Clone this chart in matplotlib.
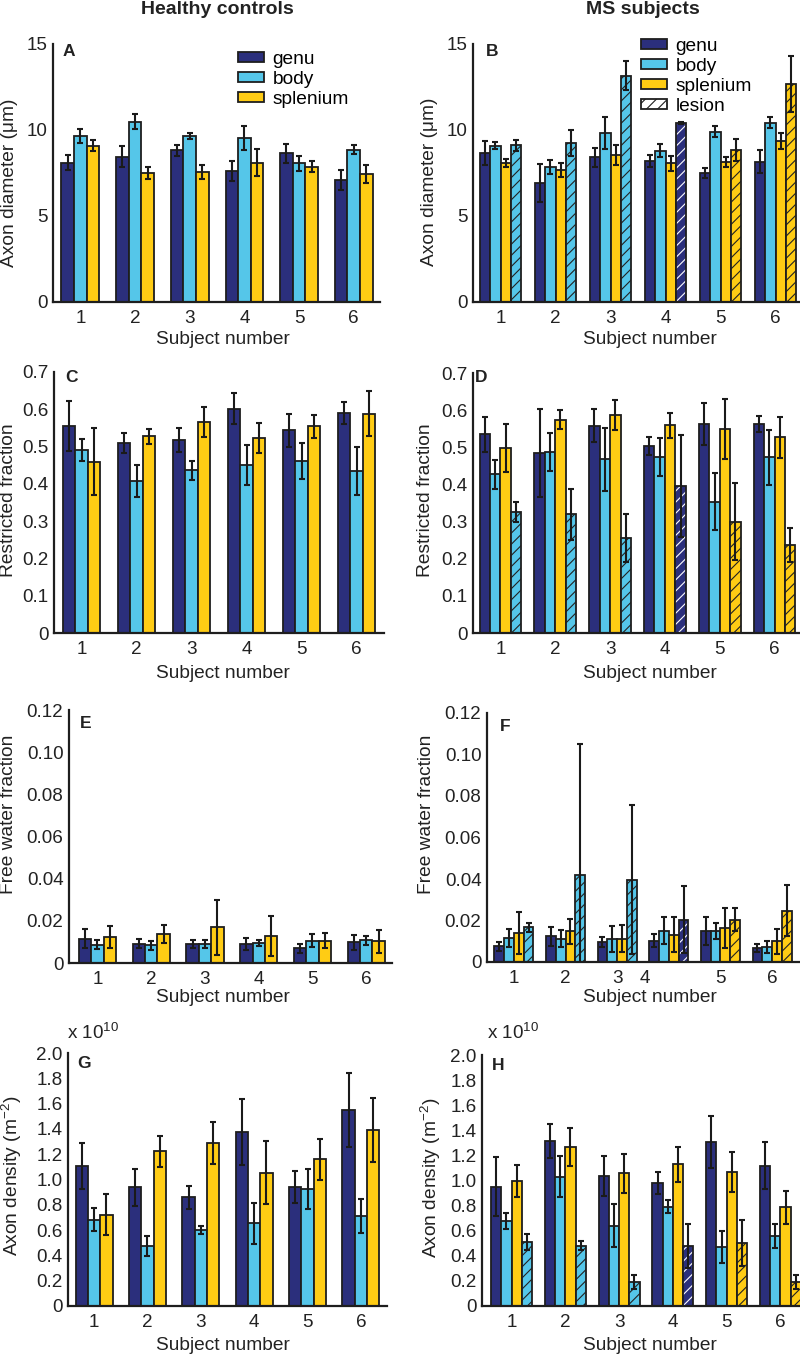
import matplotlib
matplotlib.use("Agg")
import matplotlib.pyplot as plt
import numpy as np
from matplotlib.patches import Patch

plt.rcParams['font.family'] = ['Liberation Sans', 'DejaVu Sans']
plt.rcParams['mathtext.fontset'] = 'custom'
plt.rcParams['mathtext.rm'] = 'Liberation Sans'
plt.rcParams['mathtext.default'] = 'regular'
plt.rcParams['hatch.linewidth'] = 0.8

# ---------------- data ----------------
subjects = [1, 2, 3, 4, 5, 6]
regions = ['genu', 'body', 'splenium']
lesion_region = ['body', 'body', 'body', 'genu', 'splenium', 'splenium']

# A: healthy axon diameter (um)
A_genu = [8.10, 8.45, 8.82, 7.61, 8.66, 7.09]
A_genu_err = [0.45, 0.60, 0.32, 0.60, 0.55, 0.60]
A_body = [9.65, 10.49, 9.65, 9.53, 8.06, 8.85]
A_body_err = [0.42, 0.45, 0.20, 0.70, 0.45, 0.25]
A_spl = [9.09, 7.50, 7.55, 8.10, 7.86, 7.44]
A_spl_err = [0.33, 0.34, 0.42, 0.80, 0.33, 0.50]

# B: MS axon diameter (um)
B_genu = [8.68, 6.93, 8.41, 8.21, 7.51, 8.16]
B_genu_err = [0.70, 1.09, 0.55, 0.36, 0.28, 0.66]
B_body = [9.09, 7.86, 9.84, 8.80, 9.90, 10.43]
B_body_err = [0.20, 0.40, 0.92, 0.39, 0.33, 0.34]
B_spl = [8.06, 7.67, 8.54, 8.06, 8.12, 9.36]
B_spl_err = [0.23, 0.40, 0.56, 0.43, 0.29, 0.46]
B_les = [9.11, 9.22, 13.15, 10.39, 8.83, 12.68]
B_les_err = [0.33, 0.76, 0.84, 0.05, 0.66, 1.63]

# C: healthy restricted fraction
C_genu = [0.554, 0.510, 0.517, 0.602, 0.544, 0.590]
C_genu_err = [0.067, 0.027, 0.032, 0.041, 0.044, 0.030]
C_body = [0.490, 0.408, 0.436, 0.450, 0.461, 0.434]
C_body_err = [0.030, 0.043, 0.025, 0.053, 0.048, 0.065]
C_spl = [0.459, 0.528, 0.566, 0.524, 0.554, 0.588]
C_spl_err = [0.090, 0.020, 0.039, 0.040, 0.031, 0.060]

# D: MS restricted fraction
D_genu = [0.535, 0.484, 0.558, 0.504, 0.563, 0.562]
D_genu_err = [0.047, 0.119, 0.045, 0.024, 0.057, 0.022]
D_body = [0.428, 0.487, 0.468, 0.473, 0.354, 0.473]
D_body_err = [0.039, 0.052, 0.085, 0.051, 0.077, 0.074]
D_spl = [0.498, 0.574, 0.586, 0.559, 0.549, 0.527]
D_spl_err = [0.064, 0.026, 0.040, 0.033, 0.081, 0.055]
D_les = [0.327, 0.320, 0.256, 0.396, 0.300, 0.237]
D_les_err = [0.027, 0.069, 0.064, 0.137, 0.103, 0.047]

# E: healthy free water fraction
E_genu = [0.0115, 0.0092, 0.0090, 0.0090, 0.0069, 0.0099]
E_genu_err = [0.0044, 0.0020, 0.0021, 0.0030, 0.0021, 0.0036]
E_body = [0.0087, 0.0084, 0.0090, 0.0095, 0.0106, 0.0107]
E_body_err = [0.0022, 0.0020, 0.0021, 0.0016, 0.0030, 0.0021]
E_spl = [0.0123, 0.0139, 0.0169, 0.0130, 0.0106, 0.0103]
E_spl_err = [0.0054, 0.0042, 0.0130, 0.0095, 0.0034, 0.0055]

# F: MS free water fraction
F_genu = [0.0076, 0.0124, 0.0095, 0.0103, 0.0151, 0.0067]
F_genu_err = [0.0021, 0.0045, 0.0025, 0.0030, 0.0067, 0.0021]
F_body = [0.0116, 0.0112, 0.0111, 0.0151, 0.0151, 0.0072]
F_body_err = [0.0044, 0.0040, 0.0063, 0.0066, 0.0038, 0.0030]
F_spl = [0.0140, 0.0148, 0.0112, 0.0132, 0.0164, 0.0100]
F_spl_err = [0.0103, 0.0061, 0.0065, 0.0084, 0.0097, 0.0060]
F_les = [0.0167, 0.0421, 0.0397, 0.0204, 0.0204, 0.0247]
F_les_err = [0.0022, 0.0631, 0.0360, 0.0163, 0.0056, 0.0123]
F_tick_pos = [1, 2, 3, 3.53, 5, 6]

# G: healthy axon density (x 1e10 m^-2)
G_genu = [1.103, 0.939, 0.860, 1.372, 0.939, 1.546]
G_genu_err = [0.182, 0.145, 0.092, 0.261, 0.125, 0.292]
G_body = [0.681, 0.478, 0.602, 0.654, 0.926, 0.712]
G_body_err = [0.090, 0.079, 0.034, 0.161, 0.158, 0.132]
G_spl = [0.720, 1.222, 1.288, 1.055, 1.161, 1.388]
G_spl_err = [0.162, 0.124, 0.165, 0.248, 0.161, 0.253]

# H: MS axon density (x 1e10 m^-2)
H_genu = [0.951, 1.315, 1.036, 0.977, 1.307, 1.118]
H_genu_err = [0.234, 0.137, 0.162, 0.088, 0.206, 0.186]
H_body = [0.677, 1.031, 0.640, 0.791, 0.473, 0.558]
H_body_err = [0.061, 0.162, 0.173, 0.053, 0.127, 0.093]
H_spl = [0.996, 1.270, 1.057, 1.129, 1.068, 0.786]
H_spl_err = [0.124, 0.151, 0.154, 0.137, 0.156, 0.133]
H_les = [0.513, 0.481, 0.194, 0.478, 0.499, 0.194]
H_les_err = [0.064, 0.037, 0.056, 0.173, 0.183, 0.056]

yt_diam = [0, 5, 10, 15]
yt_diam_lbl = ['0', '5', '10', '15']
yt_rf = [0, 0.1, 0.2, 0.3, 0.4, 0.5, 0.6, 0.7]
yt_rf_lbl = ['0', '0.1', '0.2', '0.3', '0.4', '0.5', '0.6', '0.7']
yt_fw = [0, 0.02, 0.04, 0.06, 0.08, 0.10, 0.12]
yt_fw_lbl = ['0', '0.02', '0.04', '0.06', '0.08', '0.10', '0.12']
yt_ad = [0, 0.2, 0.4, 0.6, 0.8, 1.0, 1.2, 1.4, 1.6, 1.8, 2.0]
yt_ad_lbl = ['0', '0.2', '0.4', '0.6', '0.8', '1.0', '1.2', '1.4', '1.6', '1.8', '2.0']

# ---------------- style ----------------
COL = {'genu': '#2B2F7C', 'body': '#55C6E9', 'splenium': '#FFCC14'}
EDGE = '#1E1E1E'
TXT = '#222222'
W, H = 800, 1356
FS_TICK = 13.6
FS_LAB = 13.8

fig = plt.figure(figsize=(W / 100, H / 100), dpi=100)


def add_ax(left, right, top, bottom):
    return fig.add_axes([left / W, 1 - bottom / H, (right - left) / W, (bottom - top) / H])


def style(ax, xlim, ylim, yt, ytl, xt=None):
    ax.set_xlim(*xlim)
    ax.set_ylim(*ylim)
    for s in ['top', 'right']:
        ax.spines[s].set_visible(False)
    for s in ['left', 'bottom']:
        ax.spines[s].set_linewidth(1.6)
        ax.spines[s].set_color(EDGE)
    ax.set_yticks(yt)
    ax.set_yticklabels(ytl)
    ax.set_xticks(subjects if xt is None else xt)
    ax.set_xticklabels([str(s) for s in subjects])
    ax.tick_params(length=0, labelsize=FS_TICK, colors=TXT)
    ax.tick_params(axis='y', pad=4)
    ax.tick_params(axis='x', pad=6)


def draw_bars(ax, series, errs, lesion=None, lesion_err=None):
    n = len(series) + (1 if lesion is not None else 0)
    bw = 0.23 if n == 3 else 0.19
    x = np.array(subjects, dtype=float)
    offs = (np.arange(n) - (n - 1) / 2) * bw
    for i, (vals, er, reg) in enumerate(zip(series, errs, regions)):
        ax.bar(x + offs[i], vals, bw, color=COL[reg], edgecolor=EDGE, linewidth=1.3, zorder=2)
        ax.errorbar(x + offs[i], vals, yerr=er, fmt='none', ecolor='#1a1a1a',
                    elinewidth=1.5, capsize=2.5, capthick=1.5, zorder=3)
    if lesion is not None:
        xl = x + offs[-1]
        for j in range(len(subjects)):
            reg = lesion_region[j]
            hc = 'white' if reg == 'genu' else '#222222'
            ax.bar(xl[j], lesion[j], bw, color=COL[reg], edgecolor=hc, linewidth=0,
                   hatch='///', zorder=2)
            ax.bar(xl[j], lesion[j], bw, fill=False, edgecolor=EDGE, linewidth=1.3, zorder=2.5)
        ax.errorbar(xl, lesion, yerr=lesion_err, fmt='none', ecolor='#1a1a1a',
                    elinewidth=1.5, capsize=2.5, capthick=1.5, zorder=3)


def ftext(x, y, s, **kw):
    fig.text(x / W, 1 - y / H, s, **kw)


# Row 1
axA = add_ax(53, 380, 44, 302)
draw_bars(axA, [A_genu, A_body, A_spl], [A_genu_err, A_body_err, A_spl_err])
style(axA, (0.5, 6.48), (0, 15), yt_diam, yt_diam_lbl)
axB = add_ax(473, 803, 44, 302)
draw_bars(axB, [B_genu, B_body, B_spl], [B_genu_err, B_body_err, B_spl_err], B_les, B_les_err)
style(axB, (0.5, 6.5), (0, 15), yt_diam, yt_diam_lbl)

# Row 2
axC = add_ax(54, 384, 372, 633)
draw_bars(axC, [C_genu, C_body, C_spl], [C_genu_err, C_body_err, C_spl_err])
style(axC, (0.5, 6.5), (0, 0.7), yt_rf, yt_rf_lbl)
axD = add_ax(473, 802, 373, 633)
draw_bars(axD, [D_genu, D_body, D_spl], [D_genu_err, D_body_err, D_spl_err], D_les, D_les_err)
style(axD, (0.5, 6.5), (0, 0.7), yt_rf, yt_rf_lbl)

# Row 3
axE = add_ax(69, 392, 710, 963)
draw_bars(axE, [E_genu, E_body, E_spl], [E_genu_err, E_body_err, E_spl_err])
style(axE, (0.47, 6.48), (0, 0.12), yt_fw, yt_fw_lbl)
axF = add_ax(487, 799, 713, 962)
draw_bars(axF, [F_genu, F_body, F_spl], [F_genu_err, F_body_err, F_spl_err], F_les, F_les_err)
style(axF, (0.48, 6.52), (0, 0.12), yt_fw, yt_fw_lbl, xt=F_tick_pos)

# Row 4
axG = add_ax(68, 387, 1053, 1306)
draw_bars(axG, [G_genu, G_body, G_spl], [G_genu_err, G_body_err, G_spl_err])
style(axG, (0.51, 6.49), (0, 2.0), yt_ad, yt_ad_lbl)
axH = add_ax(482, 810, 1055, 1306)
draw_bars(axH, [H_genu, H_body, H_spl], [H_genu_err, H_body_err, H_spl_err], H_les, H_les_err)
style(axH, (0.45, 6.55), (0, 2.0), yt_ad, yt_ad_lbl)

# titles
ftext(217, 9, 'Healthy controls', ha='center', va='center', fontsize=14, fontweight='bold', color=TXT)
ftext(643, 9, 'MS subjects', ha='center', va='center', fontsize=14, fontweight='bold', color=TXT)

# panel letters
for (x, y, s) in [(63, 51, 'A'), (486, 52, 'B'), (65, 377, 'C'), (475, 378, 'D'),
                  (80, 723, 'E'), (500, 726, 'F'), (77, 1064, 'G'), (492, 1066, 'H')]:
    ftext(x, y, s, ha='left', va='center', fontsize=12.5, fontweight='bold', color=TXT)

# y labels
for (x, y, s) in [(10, 183, 'Axon diameter (μm)'), (429, 182, 'Axon diameter (μm)'),
                  (9, 500, 'Restricted fraction'), (426, 500, 'Restricted fraction'),
                  (9, 814, 'Free water fraction'), (427, 814, 'Free water fraction'),
                  (12, 1176, r'Axon density (m$^{-2}$)'), (431, 1178, r'Axon density (m$^{-2}$)')]:
    ftext(x, y, s, ha='center', va='center', rotation=90, fontsize=FS_LAB, color=TXT)

# x labels
for (x, y) in [(223, 340), (650, 340), (223, 673), (650, 673), (223, 997), (650, 997),
               (223, 1345), (650, 1345)]:
    ftext(x, y, 'Subject number', ha='center', va='center', fontsize=FS_LAB, color=TXT)

# offset text
ftext(67, 1033, r'x 10$^{10}$', ha='left', va='center', fontsize=FS_TICK, color=TXT)
ftext(487, 1033, r'x 10$^{10}$', ha='left', va='center', fontsize=FS_TICK, color=TXT)

# legends
hA = [Patch(facecolor=COL[r], edgecolor=EDGE, linewidth=1.3) for r in regions]
fig.legend(hA, regions, loc='upper left', bbox_to_anchor=(238 / W, 1 - 51 / H),
           bbox_transform=fig.transFigure, frameon=False, fontsize=FS_LAB, borderpad=0,
           borderaxespad=0, handlelength=1.35, handleheight=0.45, handletextpad=0.45,
           labelspacing=0.15)
hB = hA + [Patch(facecolor='white', edgecolor=EDGE, linewidth=1.3, hatch='///')]
fig.legend(hB, regions + ['lesion'], loc='upper left', bbox_to_anchor=(641 / W, 1 - 38 / H),
           bbox_transform=fig.transFigure, frameon=False, fontsize=FS_LAB, borderpad=0,
           borderaxespad=0, handlelength=1.35, handleheight=0.45, handletextpad=0.45,
           labelspacing=0.15)

fig.savefig('out.png', dpi=100)
